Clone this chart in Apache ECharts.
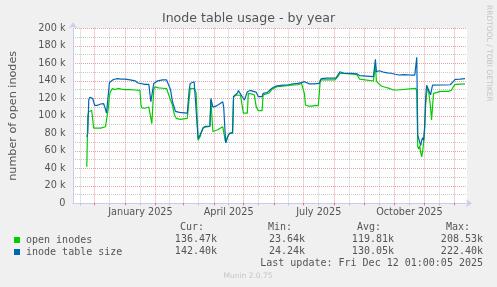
<!DOCTYPE html>
<html><head><meta charset="utf-8">
<script src="https://cdn.jsdelivr.net/npm/echarts@6/dist/echarts.min.js"></script>
<style>html,body{margin:0;padding:0;background:#F0F0F0}#c{width:497px;height:287px}</style>
</head><body><div id="c"></div>
<script>
const seriesNames = ['open inodes', 'inode table size'];
const seriesColors = ['#00CC00', '#0066B3'];

const openDates = ['2024-11-23','2024-11-24','2024-11-25','2024-11-28','2024-11-29','2024-11-30','2024-12-01','2024-12-07','2024-12-12','2024-12-14','2024-12-15','2024-12-16','2024-12-17','2024-12-19','2024-12-22','2024-12-25','2024-12-28',
'2025-01-01','2025-01-06','2025-01-11','2025-01-16','2025-01-17','2025-01-18','2025-01-21','2025-01-25','2025-01-26','2025-01-28','2025-01-30','2025-01-31','2025-02-04','2025-02-08','2025-02-12','2025-02-14','2025-02-16','2025-02-18','2025-02-20','2025-02-22','2025-02-26','2025-03-05','2025-03-06','2025-03-08','2025-03-10','2025-03-12','2025-03-14','2025-03-16','2025-03-18','2025-03-21','2025-03-23','2025-03-28','2025-03-29','2025-03-31','2025-04-01','2025-04-05','2025-04-10','2025-04-11','2025-04-13','2025-04-15','2025-04-17','2025-04-20','2025-04-21','2025-04-24','2025-04-28','2025-04-30','2025-05-01','2025-05-05','2025-05-06','2025-05-09','2025-05-12','2025-05-14','2025-05-16','2025-05-20','2025-05-21','2025-05-22','2025-05-27','2025-05-30','2025-06-01','2025-06-04','2025-06-10','2025-06-18','2025-06-25','2025-06-29','2025-07-01','2025-07-02','2025-07-03','2025-07-06','2025-07-10','2025-07-13','2025-07-16','2025-07-17','2025-07-18','2025-07-25','2025-08-02','2025-08-05','2025-08-07','2025-08-09','2025-08-24','2025-08-27','2025-08-29','2025-09-10','2025-09-12','2025-09-13','2025-09-15','2025-09-18','2025-09-20','2025-09-22','2025-09-24','2025-09-27','2025-09-30','2025-10-04','2025-10-06','2025-10-23','2025-10-24','2025-10-25','2025-10-26','2025-10-27','2025-10-28','2025-10-29','2025-10-30','2025-10-31','2025-11-01','2025-11-02','2025-11-03','2025-11-04','2025-11-05','2025-11-07','2025-11-08','2025-11-09','2025-11-10','2025-11-12','2025-11-17','2025-11-25','2025-11-28','2025-11-30','2025-12-02','2025-12-07','2025-12-12'];
const openValues = [41800,100000,104700,106000,104000,86000,85300,86000,87500,88000,110000,123000,127600,131000,130000,131400,130500,
130000,130000,129500,129000,112400,109000,108600,110000,110500,91000,130000,133000,132000,131500,131000,130000,118000,112000,101000,97000,96000,97000,98000,131400,132000,131000,126000,72000,76000,86600,88000,88000,118000,82000,80000,84000,87600,86000,69000,76000,80000,80000,121800,123800,123500,110000,103000,103000,125700,125000,123800,110500,106000,106000,123800,125700,126000,130300,131000,133300,134000,135000,135500,137000,137000,125000,112300,111000,111000,112000,111500,125000,141000,141000,141000,145000,148600,147400,147400,142000,139800,139800,158000,140000,137000,134000,135000,132600,133500,131000,129500,129500,131400,131400,128000,65000,62000,66000,58000,53000,60000,70000,84000,112000,125700,131400,128000,110000,95200,110000,125700,127600,128000,128000,129000,133000,136000,136300,136470];

const sizeDates = ['2024-11-23','2024-11-24','2024-11-25','2024-11-26','2024-11-28','2024-11-29','2024-12-01','2024-12-04','2024-12-07','2024-12-10','2024-12-11','2024-12-13','2024-12-14','2024-12-16','2024-12-17','2024-12-20','2024-12-24','2024-12-28',
'2025-01-01','2025-01-06','2025-01-11','2025-01-14','2025-01-16','2025-01-21','2025-01-25','2025-01-27','2025-01-28','2025-01-30','2025-02-01','2025-02-03','2025-02-08','2025-02-12','2025-02-14','2025-02-16','2025-02-18','2025-02-21','2025-02-25','2025-03-05','2025-03-07','2025-03-08','2025-03-12','2025-03-14','2025-03-16','2025-03-18','2025-03-21','2025-03-23','2025-03-28','2025-03-29','2025-03-31','2025-04-03','2025-04-06','2025-04-10','2025-04-11','2025-04-13','2025-04-15','2025-04-17','2025-04-19','2025-04-20','2025-04-21','2025-04-23','2025-04-25','2025-04-26','2025-04-28','2025-04-30','2025-05-02','2025-05-04','2025-05-05','2025-05-08','2025-05-11','2025-05-14','2025-05-16','2025-05-20','2025-05-21','2025-05-25','2025-05-27','2025-05-30','2025-06-01','2025-06-03','2025-06-10','2025-06-16','2025-06-19','2025-06-25','2025-06-29','2025-07-02','2025-07-03','2025-07-07','2025-07-12','2025-07-17','2025-07-19','2025-07-25','2025-08-03','2025-08-05','2025-08-07','2025-08-11','2025-08-19','2025-08-24','2025-08-27','2025-08-29','2025-09-10','2025-09-12','2025-09-13','2025-09-16','2025-09-20','2025-09-24','2025-09-28','2025-10-02','2025-10-06','2025-10-11','2025-10-18','2025-10-22','2025-10-24','2025-10-25','2025-10-26','2025-10-27','2025-10-28','2025-10-29','2025-10-30','2025-10-31','2025-11-01','2025-11-02','2025-11-03','2025-11-05','2025-11-07','2025-11-08','2025-11-09','2025-11-17','2025-11-19','2025-11-22','2025-11-27','2025-11-30','2025-12-02','2025-12-07','2025-12-12'];
const sizeValues = [76000,80000,118000,121000,121000,120000,112000,112000,113500,114000,111000,103000,104000,138000,140000,141500,142500,142000,
142000,141000,140000,137500,137000,136000,136000,116000,123000,137000,139000,140000,141000,141000,139000,130000,116000,105000,104000,103000,130000,137000,139000,139000,74000,78000,85700,88000,88300,120000,110000,111000,113000,116000,110000,69000,76000,80000,79000,81000,122000,124000,126000,129000,125000,124000,118000,119000,127500,129000,128000,127000,122000,122000,125700,126500,127600,131400,132500,134000,135000,135500,136300,137000,138000,139000,137000,136500,136500,137000,142500,143000,143000,145000,150400,148600,148600,148000,146000,144700,144700,164600,150400,151500,150000,149000,148600,147500,146600,147000,146600,146600,166900,78000,74000,70000,66000,72000,75000,72000,88000,120000,135000,134500,124000,124000,135000,135200,136000,135200,135500,139000,141700,142000,142400];

const xStart = '2024-11-09';
const xEnd = '2025-12-14';
const monthStarts = ['2024-12-01','2025-01-01','2025-02-01','2025-03-01','2025-04-01','2025-05-01','2025-06-01','2025-07-01','2025-08-01','2025-09-01','2025-10-01','2025-11-01','2025-12-01'];
const midMonths = ['2024-11-16','2024-12-16','2025-01-16','2025-02-15','2025-03-16','2025-04-16','2025-05-16','2025-06-16','2025-07-16','2025-08-16','2025-09-16','2025-10-16','2025-11-16'];
const tickLabelDates = ['2025-01-16 12:00','2025-04-16 00:00','2025-07-16 12:00','2025-10-16 12:00'];
const tickLabels = ['January 2025','April 2025','July 2025','October 2025'];
const yMax = 200000, yStep = 20000;

const statHeaders = ['Cur:','Min:','Avg:','Max:'];
const openStats = ['136.47k','23.64k','119.81k','208.53k'];
const sizeStats = ['142.40k','24.24k','130.05k','222.40k'];
const lastUpdate = 'Last update: Fri Dec 12 01:00:05 2025';
const titleText = 'Inode table usage - by year';
const yName = 'number of open inodes';

const P = s => +echarts.number.parseDate(s);
const labelVals = tickLabelDates.map(P);
const FONT = 'DejaVu Sans';
const MONO = 'DejaVu Sans Mono';
const TXT = '#555555';
const MAJ = 'rgba(230,120,120,0.7)';
const MIN = 'rgba(170,170,170,0.65)';
const AXC = '#C8CCF0';

const chart = echarts.init(document.getElementById('c'), null, {renderer: 'canvas'});
const headerX = [204, 292, 381, 470];
const valX = [217, 305, 394, 483];
const graphics = [];
const monoFont = '10px "' + MONO + '"';
statHeaders.forEach((h, i) => graphics.push({type:'text', x: headerX[i], y: 227.5, style:{text:h, font:monoFont, fill:TXT, align:'right', verticalAlign:'middle'}}));
openStats.forEach((h, i) => graphics.push({type:'text', x: valX[i], y: 239.8, style:{text:h, font:monoFont, fill:TXT, align:'right', verticalAlign:'middle'}}));
sizeStats.forEach((h, i) => graphics.push({type:'text', x: valX[i], y: 251.6, style:{text:h, font:monoFont, fill:TXT, align:'right', verticalAlign:'middle'}}));
graphics.push({type:'text', x: 483, y: 263.3, style:{text:lastUpdate, font:monoFont, fill:TXT, align:'right', verticalAlign:'middle'}});
graphics.push({type:'text', x: 248, y: 276, style:{text:'Munin 2.0.75', font:'7.5px "'+FONT+'"', fill:'#C4C4C4', align:'center', verticalAlign:'middle'}});
graphics.push({type:'text', x: 488.5, y: 5, rotation: -Math.PI/2, style:{text:'RRDTOOL / TOBI OETIKER', font:'7.5px "'+FONT+'"', fill:'#C4C4C4', align:'left', verticalAlign:'middle'}});

const option = {
  animation: false,
  backgroundColor: '#F0F0F0',
  textStyle: {fontFamily: FONT},
  title: {text: titleText, left: 'center', top: 12.5, padding: 0, itemGap: 0,
    textStyle: {fontFamily: FONT, fontSize: 12.6, fontWeight: 'normal', color: TXT}},
  legend: {data: seriesNames, orient: 'vertical', left: 14, top: 234, padding: 0, itemGap: 0,
    itemWidth: 6, itemHeight: 6, icon: 'rect', selectedMode: false,
    textStyle: {fontFamily: MONO, fontSize: 10, color: TXT, lineHeight: 12, padding: [0,0,0,1]}},
  grid: {left: 67, right: 30, top: 28.3, bottom: 83.7, show: true, backgroundColor: '#FFFFFF', borderWidth: 0, containLabel: false},
  xAxis: [{
    type: 'value', min: P(xStart), max: P(xEnd), scale: true,
    axisLine: {show: true, onZero: false, lineStyle: {color: AXC, width: 1}, symbol: ['none','arrow'], symbolSize: [6, 6], symbolOffset: [0, 5]},
    axisTick: {show: true, customValues: monthStarts.map(P), length: 2, lineStyle: {color: '#E07070'}},
    axisLabel: {show: true, customValues: labelVals, margin: 4, fontSize: 9.7, color: TXT, fontFamily: FONT,
      formatter: v => { const i = labelVals.findIndex(t => Math.abs(t - v) < 1000); return i >= 0 ? tickLabels[i] : ''; }},
    splitLine: {show: true, lineStyle: {color: MAJ, type: [1, 1], width: 1}},
    z: 3
  }, {
    type: 'value', min: P(xStart), max: P(xEnd), scale: true, position: 'bottom',
    axisLine: {show: false, onZero: false}, axisLabel: {show: false},
    axisTick: {show: true, customValues: midMonths.map(P), length: 2, lineStyle: {color: '#BBBBBB'}},
    splitLine: {show: true, lineStyle: {color: MIN, type: [1, 1], width: 1}},
    z: 2
  }],
  yAxis: {
    type: 'value', min: 0, max: yMax, interval: yStep,
    name: yName, nameLocation: 'middle', nameGap: 54, nameRotate: 90,
    nameTextStyle: {fontFamily: FONT, fontSize: 11.2, color: TXT},
    axisLine: {show: true, lineStyle: {color: AXC, width: 1}, symbol: ['none','arrow'], symbolSize: [6, 6], symbolOffset: [0, 6]},
    axisTick: {show: false},
    axisLabel: {margin: 7.5, fontSize: 9.7, color: TXT, fontFamily: FONT,
      formatter: v => v === 0 ? '0' : (v / 1000) + ' k'},
    splitLine: {show: true, lineStyle: {color: MAJ, type: [1, 1], width: 1}},
    minorTick: {show: false, splitNumber: 2},
    minorSplitLine: {show: true, lineStyle: {color: MIN, type: [1, 1], width: 1}}
  },
  series: [
    {name: seriesNames[0], type: 'line', xAxisIndex: 0, showSymbol: false, symbol: 'none', color: seriesColors[0],
     lineStyle: {width: 1.2, color: seriesColors[0]}, data: openDates.map((d, i) => [P(d), openValues[i]]), z: 5},
    {name: seriesNames[1], type: 'line', xAxisIndex: 0, showSymbol: false, symbol: 'none', color: seriesColors[1],
     lineStyle: {width: 1.2, color: seriesColors[1]}, data: sizeDates.map((d, i) => [P(d), sizeValues[i]]), z: 6}
  ],
  graphic: graphics
};
chart.setOption(option);
</script></body></html>
